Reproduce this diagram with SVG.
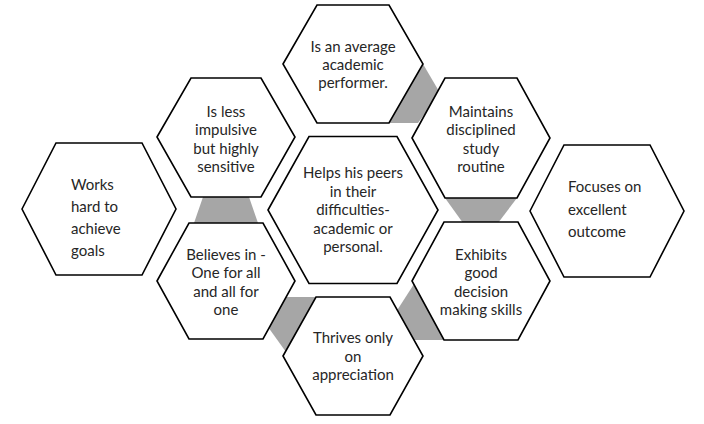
<svg xmlns="http://www.w3.org/2000/svg" width="704" height="424" viewBox="0 0 704 424">
<style>
.hex{fill:#ffffff;stroke:#000000;stroke-width:1.6;stroke-linejoin:miter}
.gap{fill:#a6a6a6;stroke:none}
.t{font-family:Lato,"Open Sans","Liberation Sans",sans-serif;font-size:15px;fill:#262626;text-anchor:middle}
.tl{font-family:Lato,"Open Sans","Liberation Sans",sans-serif;font-size:15px;fill:#262626;text-anchor:start}
</style>
<rect width="704" height="424" fill="#ffffff"/>
<g id="connectors">
<polygon class="gap" points="423,64 440,93 418,123 389,123"/>
<polygon class="gap" points="445,198 517,198 498,223 463,223"/>
<polygon class="gap" points="414,284 446,340 412,340 396,312"/>
<polygon class="gap" points="286,297 318,297 286,352 268,327"/>
<polygon class="gap" points="203,197 249,197 258,223 194,223"/>
</g>
<g id="n-works">
<polygon class="hex" points="22,209 56,143 142,143 176,209 142,275 56,275"/>
<text class="tl" x="71" y="190">Works</text>
<text class="tl" x="71" y="212">hard to</text>
<text class="tl" x="71" y="234">achieve</text>
<text class="tl" x="71" y="256">goals</text>
</g>
<g id="n-focuses">
<polygon class="hex" points="530,211 564,145 650,145 684,211 650,277 564,277"/>
<text class="tl" x="568" y="192">Focuses on</text>
<text class="tl" x="568" y="215">excellent</text>
<text class="tl" x="568" y="237">outcome</text>
</g>
<g id="n-average">
<polygon class="hex" points="283,64 317,5 389,5 423,64 389,123 317,123"/>
<text class="t" x="353" y="52">Is an average</text>
<text class="t" x="353" y="70">academic</text>
<text class="t" x="353" y="88">performer.</text>
</g>
<g id="n-maintains">
<polygon class="hex" points="412,138 445,78 517,78 550,138 517,198 445,198"/>
<text class="t" x="481" y="117">Maintains</text>
<text class="t" x="481" y="135">disciplined</text>
<text class="t" x="481" y="154">study</text>
<text class="t" x="481" y="172">routine</text>
</g>
<g id="n-lessimpulsive">
<polygon class="hex" points="157,137 191,78 261,78 295,137 261,197 191,197"/>
<text class="t" x="226" y="117">Is less</text>
<text class="t" x="226" y="135">impulsive</text>
<text class="t" x="226" y="154">but highly</text>
<text class="t" x="226" y="172">sensitive</text>
</g>
<g id="n-helps">
<polygon class="hex" points="268,210 309,136.5 397,136.5 438,210 397,283.5 309,283.5"/>
<text class="t" x="353" y="178">Helps his peers</text>
<text class="t" x="353" y="197">in their</text>
<text class="t" x="353" y="215">difficulties-</text>
<text class="t" x="353" y="234">academic or</text>
<text class="t" x="353" y="252">personal.</text>
</g>
<g id="n-believes">
<polygon class="hex" points="157,281 189,223 263,223 295,281 263,339 189,339"/>
<text class="t" x="226" y="260">Believes in -</text>
<text class="t" x="226" y="278">One for all</text>
<text class="t" x="226" y="297">and all for</text>
<text class="t" x="226" y="315">one</text>
</g>
<g id="n-exhibits">
<polygon class="hex" points="412,281 444,222 518,222 550,281 518,340 444,340"/>
<text class="t" x="481" y="260">Exhibits</text>
<text class="t" x="481" y="278">good</text>
<text class="t" x="481" y="297">decision</text>
<text class="t" x="481" y="315">making skills</text>
</g>
<g id="n-thrives">
<polygon class="hex" points="283,356 316,297 390,297 423,356 390,415 316,415"/>
<text class="t" x="353" y="343">Thrives only</text>
<text class="t" x="353" y="362">on</text>
<text class="t" x="353" y="380">appreciation</text>
</g>
</svg>
